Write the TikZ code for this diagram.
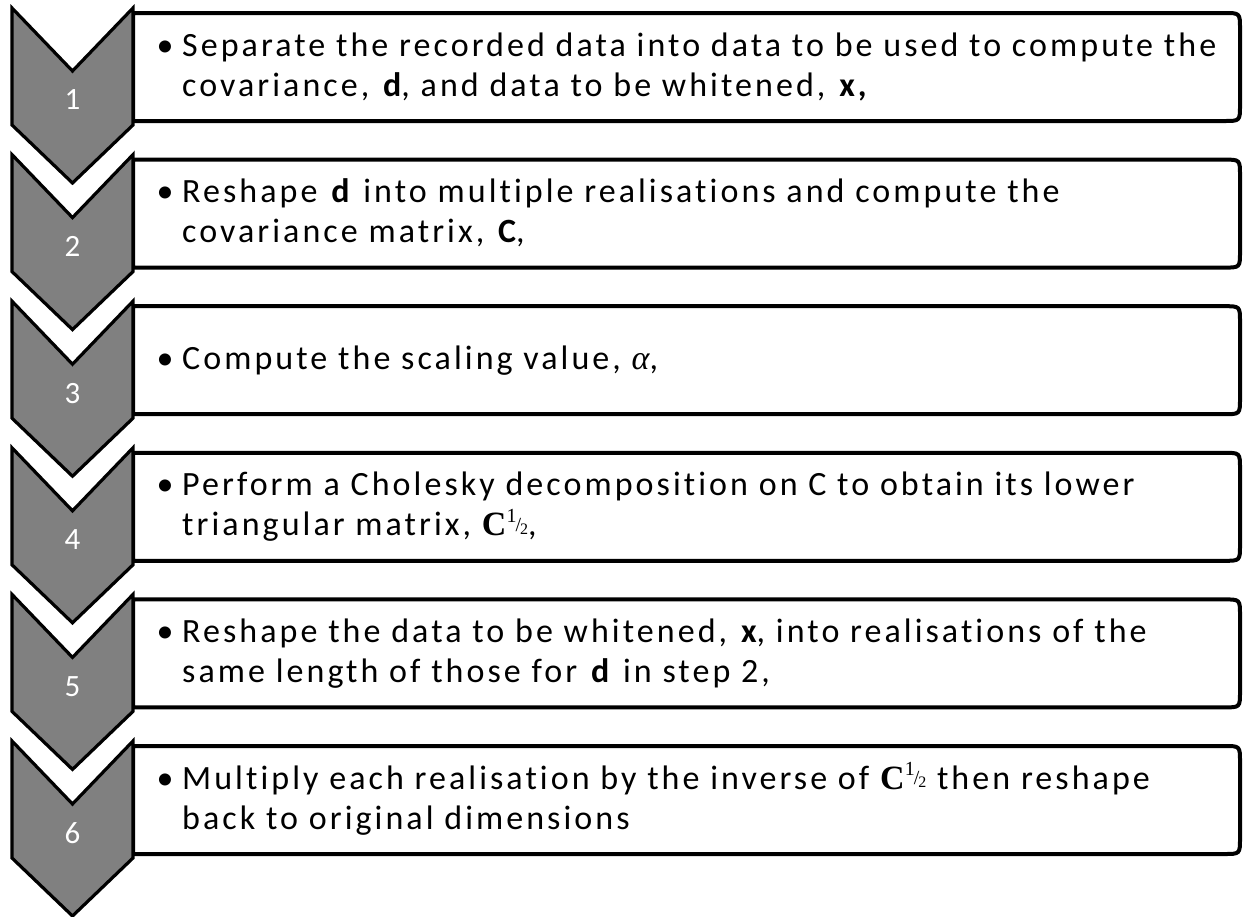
\documentclass[tikz,border=0pt]{standalone}
\usepackage{fontspec}
\setmainfont{Carlito}[LetterSpace=9,Ligatures=NoCommon]
\newfontfamily\serif{Liberation Serif}
\definecolor{chevgray}{RGB}{128,128,128}
\newcommand\chalf{{\serif\bfseries C}{\serif\raisebox{0.85ex}{\fontsize{20}{20}\selectfont 1}\kern-1pt\raisebox{0.3ex}{\fontsize{20}{20}\selectfont/}\kern-1pt\raisebox{0.1ex}{\fontsize{16}{16}\selectfont 2}}}
\newcommand\alphs{{\serif\itshape α}}
\newcommand\bul{\llap{\makebox[34pt][c]{\textbullet}}}
\begin{document}
\begin{tikzpicture}[x=1pt,y=-1pt,
  chev/.style={draw=black,line width=3.2pt,fill=chevgray,line join=miter},
  stepbox/.style={draw=black,line width=4pt,fill=white},
  num/.style={text=white,font=\fontsize{31}{38}\selectfont,inner sep=0pt},
  txt/.style={anchor=base west,inner sep=0pt,font=\fontsize{34}{40}\selectfont,text=black}]
\useasboundingbox (0,0) rectangle (1248,916);
\foreach \i in {0,...,5}{
  \pgfmathsetmacro\T{8+146.6*\i}
  \pgfmathsetmacro\bt{\T+5}
  \pgfmathsetmacro\bb{\T+113}
  \draw[stepbox] (133,\bt) -- (1224,\bt) .. controls (1240,\bt) .. (1240,\bt+16)
     -- (1240,\bb-16) .. controls (1240,\bb) .. (1224,\bb) -- (133,\bb) -- cycle;
  \draw[chev] (12,\T) -- (72.5,\T+63) -- (133,\T) -- (133,\T+117) -- (72.5,\T+175) -- (12,\T+117) -- cycle;
}
\node[num] (n1) at (72.5,100) {1};
\node[num] (n2) at (72.5,{100+146.6}) {2};
\node[num] (n3) at (72.5,{100+2*146.6}) {3};
\node[num] (n4) at (72.5,{100+3*146.6}) {4};
\node[num] (n5) at (72.5,{100+4*146.6}) {5};
\node[num] (n6) at (72.5,{100+5*146.6}) {6};
\node[txt] (t1) at (182,56) {\bul\parbox[t]{1060pt}{Separate the recorded data into data to be used to compute the\\covariance, \textbf{d}, and data to be whitened, \textbf{x,}}};
\node[txt] (t2) at (182,{56+146.6}) {\bul\parbox[t]{1060pt}{Reshape \textbf{d} into multiple realisations and compute the\\covariance matrix, \textbf{C},}};
\node[txt] (t3) at (182,{76+2*146.6}) {\bul\parbox[t]{1060pt}{Compute the scaling value, \alphs,}};
\node[txt] (t4) at (182,{56+3*146.6}) {\bul\parbox[t]{1060pt}{Perform a Cholesky decomposition on C to obtain its lower\\triangular matrix, \chalf,}};
\node[txt] (t5) at (182,{56+4*146.6}) {\bul\parbox[t]{1060pt}{Reshape the data to be whitened, \textbf{x}, into realisations of the\\same length of those for \textbf{d} in step 2,}};
\node[txt] (t6) at (182,{56+5*146.6}) {\bul\parbox[t]{1060pt}{Multiply each realisation by the inverse of \chalf{} then reshape\\back to original dimensions}};
\end{tikzpicture}
\end{document}
